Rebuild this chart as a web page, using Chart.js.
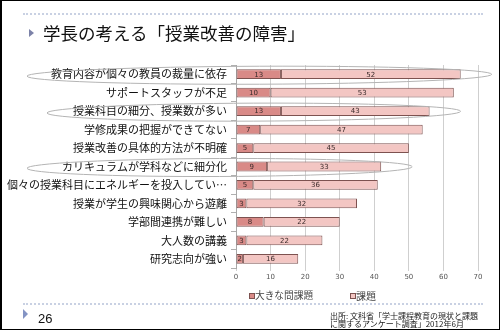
<!DOCTYPE html>
<html><head><meta charset="utf-8">
<script src="https://cdn.jsdelivr.net/npm/chart.js@4"></script>
<style>
html,body{margin:0;padding:0;background:#fff;overflow:hidden;}
#wrap{position:relative;width:500px;height:330px;}
#c{position:absolute;left:0;top:0;}
.t{position:absolute;white-space:nowrap;font-family:"Noto Sans CJK JP","Noto Sans",sans-serif;line-height:1;}
.dot{position:absolute;left:23px;width:460px;border-top:2px dotted #c9d1e3;height:0;}
#frame{position:absolute;left:0;top:0;width:500px;height:330px;box-sizing:border-box;border:1px solid #000;border-left-width:2px;pointer-events:none;}
.tri{position:absolute;width:0;height:0;border-top:4px solid transparent;border-bottom:4px solid transparent;border-left:5px solid #7c82a8;}
.sq{position:absolute;width:4px;height:4px;border:1px solid #7d5250;}
</style></head>
<body>
<div id="wrap">
<canvas id="c" width="500" height="330"></canvas>
<div class="dot" style="top:13px"></div>
<div class="tri" style="left:29px;top:29px"></div>
<div class="t" id="title" style="left:43px;top:24px;font-size:17.5px;color:#111;">学長の考える「授業改善の障害」</div>
<div class="sq" style="left:249px;top:293px;background:#d98a87"></div>
<div class="t" style="left:255px;top:291px;font-size:9.7px;color:#444;">大きな問課題</div>
<div class="sq" style="left:350px;top:293px;background:#f3c6c3"></div>
<div class="t" style="left:356px;top:291px;font-size:10px;color:#444;">課題</div>
<div class="dot" style="top:303px"></div>
<div class="tri" style="left:23px;top:309px;border-top-width:5px;border-bottom-width:5px;border-left-width:5px;border-left-color:#8494c4"></div>
<div class="t" style="left:38px;top:312px;font-size:13px;color:#111;font-family:'Liberation Sans',Arial,sans-serif;">26</div>
<div class="t" style="left:330px;top:311.5px;font-size:8px;line-height:8.5px;color:#222;">出所: 文科省「学士課程教育の現状と課題<br>に関するアンケート調査」2012年6月</div>
<div id="frame"></div>
</div>
<script>
const categories = [
  "教育内容が個々の教員の裁量に依存",
  "サポートスタッフが不足",
  "授業科目の細分、授業数が多い",
  "学修成果の把握ができてない",
  "授業改善の具体的方法が不明確",
  "カリキュラムが学科などに細分化",
  "個々の授業科目にエネルギーを投入してい…",
  "授業が学生の興味関心から遊離",
  "学部間連携が難しい",
  "大人数の講義",
  "研究志向が強い"
];
const majorIssue = [13, 10, 13, 7, 5, 9, 5, 3, 8, 3, 2];
const issue = [52, 53, 43, 47, 45, 33, 36, 32, 22, 22, 16];
const seriesNames = ["大きな問課題", "課題"];
const xTicks = [0, 10, 20, 30, 40, 50, 60, 70];
const circledRows = [0, 2, 5];
const circleLeft = [27, 47, 27];

const valueLabels = {
  id: 'valueLabels',
  afterDatasetsDraw(chart) {
    const ctx = chart.ctx;
    ctx.save();
    ctx.font = '7px "DejaVu Sans", sans-serif';
    ctx.fillStyle = '#3a2a2a';
    ctx.textAlign = 'center';
    ctx.textBaseline = 'middle';
    chart.data.datasets.forEach((ds, di) => {
      const meta = chart.getDatasetMeta(di);
      meta.data.forEach((el, i) => {
        const p = el.getProps(['x', 'y', 'base'], true);
        ctx.fillText(String(ds.data[i]), (p.x + p.base) / 2, p.y + 0.5);
      });
    });
    ctx.restore();
  }
};

const ellipses = {
  id: 'ellipses',
  afterDraw(chart) {
    const ctx = chart.ctx;
    const ys = chart.scales.y;
    const last = chart.getDatasetMeta(1);
    ctx.save();
    ctx.strokeStyle = '#b4b4b4';
    ctx.lineWidth = 1;
    circledRows.forEach((r, k) => {
      const cy = ys.getPixelForValue(r) + 1;
      const right = last.data[r].x + 31;
      const left = circleLeft[k];
      ctx.beginPath();
      ctx.ellipse((left + right) / 2, cy, (right - left) / 2, 9, -0.004, 0, Math.PI * 2);
      ctx.stroke();
    });
    ctx.restore();
  }
};

new Chart(document.getElementById('c'), {
  type: 'bar',
  data: {
    labels: categories,
    datasets: [
      { label: seriesNames[0], data: majorIssue, backgroundColor: '#d98a87', borderColor: '#7d5250', borderWidth: 1, borderSkipped: false, categoryPercentage: 1, barPercentage: 0.53 },
      { label: seriesNames[1], data: issue, backgroundColor: '#f3c6c3', borderColor: '#7d5250', borderWidth: 1, borderSkipped: false, categoryPercentage: 1, barPercentage: 0.53 }
    ]
  },
  options: {
    indexAxis: 'y',
    responsive: false,
    animation: false,
    layout: { padding: { left: 0, top: 65, right: 22, bottom: 42 } },
    plugins: { legend: { display: false }, tooltip: { enabled: false } },
    scales: {
      x: {
        stacked: true, min: 0, max: 70,
        afterBuildTicks(s) { s.ticks = xTicks.map(v => ({ value: v })); },
        afterFit(s) { s.height = 20; },
        grid: { color: '#cfcfcf', drawTicks: true, tickLength: 3 },
        border: { display: false },
        ticks: { padding: 2, font: { size: 7, family: '"DejaVu Sans", sans-serif' }, color: '#555', maxRotation: 0 }
      },
      y: {
        stacked: true,
        afterFit(s) { s.width = 236; },
        grid: { drawOnChartArea: false, drawTicks: true, tickLength: 5, offset: true, color: '#b0b0b0' },
        border: { display: true, color: '#a8a8a8' },
        ticks: { padding: 4, autoSkip: false, font: { size: 11, family: '"Noto Sans CJK JP", sans-serif' }, color: '#111' }
      }
    }
  },
  plugins: [valueLabels, ellipses]
});
</script>
</body></html>
